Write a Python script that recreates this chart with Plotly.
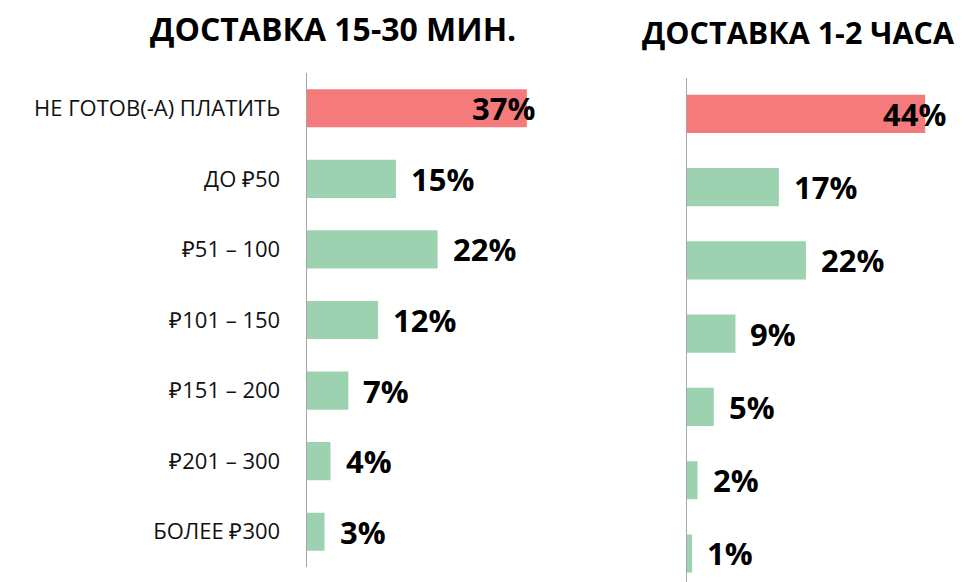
import plotly.graph_objects as go

categories = ["НЕ ГОТОВ(-А) ПЛАТИТЬ", "ДО ₽50", "₽51 – 100", "₽101 – 150",
              "₽151 – 200", "₽201 – 300", "БОЛЕЕ ₽300"]
fast_values = [37, 15, 22, 12, 7, 4, 3]
slow_values = [44, 17, 22, 9, 5, 2, 1]
titles = ["ДОСТАВКА 15-30 МИН.", "ДОСТАВКА 1-2 ЧАСА"]

RED = "#F47A7B"
GREEN = "#9DD2B1"
AXIS = "#A6A6A6"
FONT = "Open Sans"

# page body has an 8px margin; figure is sized so that it fills the window
OFF = 8
W, H = 966 - OFF, 582 - OFF


def px(x):
    return (x - OFF) / W


def py(y):
    return 1 - (y - OFF) / H


def colors(vals):
    return [RED if i == 0 else GREEN for i in range(len(vals))]


fig = go.Figure()
fig.add_trace(go.Bar(x=fast_values, y=categories, orientation="h", width=0.54,
                     marker=dict(color=colors(fast_values), line=dict(width=0)),
                     xaxis="x", yaxis="y", hoverinfo="skip"))
fig.add_trace(go.Bar(x=slow_values, y=categories, orientation="h", width=0.52,
                     marker=dict(color=colors(slow_values), line=dict(width=0)),
                     xaxis="x2", yaxis="y2", hoverinfo="skip"))

annotations = []
lab_font = dict(family=FONT, size=31, color="#000000", weight="bold")
for vals, xa, ya, max_shift in [(fast_values, "x", "y", 10), (slow_values, "x2", "y2", 23)]:
    vmax = max(vals)
    for c, v in zip(categories, vals):
        if v == vmax:
            annotations.append(dict(x=v, y=c, xref=xa, yref=ya, text=f"{v}%",
                                    showarrow=False, xanchor="right", xshift=max_shift,
                                    yanchor="middle", font=lab_font))
        else:
            annotations.append(dict(x=v, y=c, xref=xa, yref=ya, text=f"{v}%",
                                    showarrow=False, xanchor="left", xshift=13,
                                    yanchor="middle", font=lab_font))

annotations.append(dict(x=px(332.5), y=py(28), xref="paper", yref="paper",
                        text=titles[0], showarrow=False, xanchor="center", yanchor="middle",
                        font=dict(family=FONT, size=32, color="#000000", weight="bold")))
annotations.append(dict(x=px(798), y=py(32), xref="paper", yref="paper",
                        text=titles[1], showarrow=False, xanchor="center", yanchor="middle",
                        font=dict(family=FONT, size=30.5, color="#000000", weight="bold")))

fig.update_layout(
    width=W, height=H,
    margin=dict(l=0, r=0, t=0, b=0),
    paper_bgcolor="white", plot_bgcolor="white",
    showlegend=False,
    font=dict(family=FONT, color="#000000"),
    annotations=annotations,
    xaxis=dict(domain=[px(306.7), px(544.7)], range=[0, 40], visible=False,
               fixedrange=True),
    yaxis=dict(domain=[py(567), py(73)], type="category",
               categoryorder="array", categoryarray=categories,
               range=[6.5, -0.5], autorange=False,
               showline=True, linecolor=AXIS, linewidth=1.3,
               showgrid=False, zeroline=False, ticks="",
               ticklabelstandoff=21,
               tickfont=dict(family=FONT, size=22, color="#111111")),
    xaxis2=dict(domain=[px(686.7), px(957.7)], range=[0, 50], visible=False,
                anchor="y2", fixedrange=True),
    yaxis2=dict(domain=[0, py(78)], type="category", anchor="x2",
                categoryorder="array", categoryarray=categories,
                range=[6.39, -0.49], autorange=False,
                showline=True, linecolor=AXIS, linewidth=1.3,
                showgrid=False, zeroline=False, ticks="", showticklabels=False),
)

fig.write_html("out.html")
